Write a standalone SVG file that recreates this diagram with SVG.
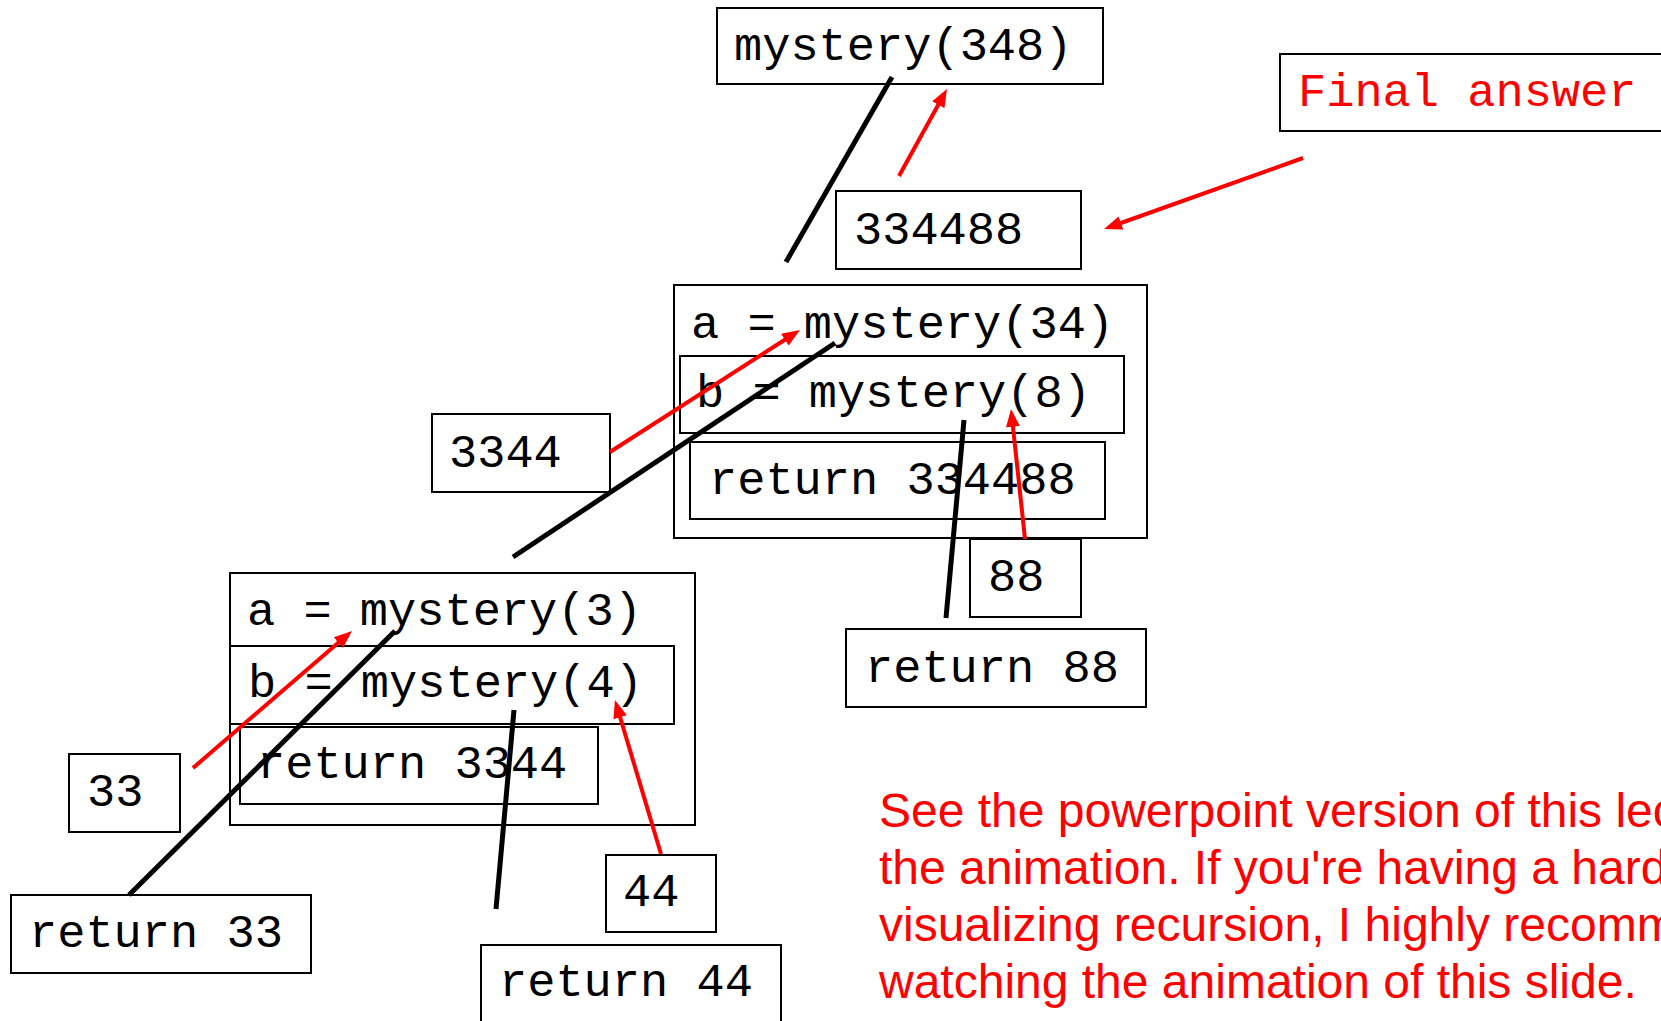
<svg xmlns="http://www.w3.org/2000/svg" width="1661" height="1021" viewBox="0 0 1661 1021">
<style>
.box{fill:none;stroke:#000;stroke-width:2}
.t{font-family:"Liberation Mono","Courier New",monospace;font-size:47px;fill:#000}
.tr{font-family:"Liberation Mono","Courier New",monospace;font-size:47px;fill:#ff0000}
.note{font-family:"Liberation Sans",Arial,sans-serif;font-size:48px;fill:#ff0000}
.blk{stroke:#000;stroke-width:5;fill:none}
.red{stroke:#ff0000;stroke-width:4;fill:none;marker-end:url(#ah)}
</style>
<defs>
<marker id="ah" markerUnits="userSpaceOnUse" viewBox="0 0 18 14" refX="6" refY="7" markerWidth="18" markerHeight="14" orient="auto">
<path d="M0,0 L18,7 L0,14 z" fill="#ff0000"/>
</marker>
</defs>
<rect width="1661" height="1021" fill="#fff"/>
<g id="nodes">
<g id="call348"><rect class="box" x="717" y="8" width="386" height="76"/><text class="t" x="734" y="60">mystery(348)</text></g>
<g id="final"><rect class="box" x="1280" y="54" width="400" height="77"/><text class="tr" x="1298" y="106">Final answer</text></g>
<g id="v334488"><rect class="box" x="836" y="191" width="245" height="78"/><text class="t" x="854" y="244">334488</text></g>
<g id="frame34"><rect class="box" x="674" y="285" width="473" height="253"/><text class="t" x="691" y="338">a = mystery(34)</text></g>
<g id="b8"><rect class="box" x="680" y="356" width="444" height="77"/><text class="t" x="696" y="407">b = mystery(8)</text></g>
<g id="ret334488"><rect class="box" x="690" y="442" width="415" height="77"/><text class="t" x="709" y="494">return 334488</text></g>
<g id="v3344"><rect class="box" x="432" y="414" width="178" height="78"/><text class="t" x="449" y="467">3344</text></g>
<g id="v88"><rect class="box" x="970" y="539" width="111" height="78"/><text class="t" x="988" y="591">88</text></g>
<g id="ret88"><rect class="box" x="846" y="629" width="300" height="78"/><text class="t" x="865" y="682">return 88</text></g>
<g id="frame3"><rect class="box" x="230" y="573" width="465" height="252"/><text class="t" x="247" y="625">a = mystery(3)</text></g>
<g id="b4"><rect class="box" x="230" y="646" width="444" height="78"/><text class="t" x="248" y="697">b = mystery(4)</text></g>
<g id="ret3344"><rect class="box" x="240" y="727" width="358" height="77"/><text class="t" x="257" y="778">return 3344</text></g>
<g id="v33"><rect class="box" x="69" y="754" width="111" height="78"/><text class="t" x="87" y="806">33</text></g>
<g id="ret33"><rect class="box" x="11" y="895" width="300" height="78"/><text class="t" x="29" y="947">return 33</text></g>
<g id="v44"><rect class="box" x="606" y="855" width="110" height="77"/><text class="t" x="623" y="906">44</text></g>
<g id="ret44"><rect class="box" x="481" y="945" width="300" height="90"/><text class="t" x="499" y="996">return 44</text></g>
</g>
<g id="connectors">
<line class="blk" x1="892" y1="77" x2="786" y2="262"/>
<line class="blk" x1="835" y1="343" x2="513" y2="557"/>
<line class="blk" x1="964" y1="420" x2="946" y2="618"/>
<line class="blk" x1="395" y1="631" x2="129" y2="895"/>
<line class="blk" x1="514" y1="710" x2="496" y2="909"/>
<line class="red" x1="899" y1="176" x2="941.2" y2="99.5"/>
<line class="red" x1="1303" y1="158" x2="1115.3" y2="225"/>
<line class="red" x1="610" y1="452" x2="789.9" y2="336.5"/>
<line class="red" x1="1025" y1="539" x2="1012.3" y2="420.9"/>
<line class="red" x1="193" y1="768" x2="342.9" y2="638.8"/>
<line class="red" x1="661" y1="854" x2="618.4" y2="711.5"/>
</g>
<g id="note">
<text class="note" x="879" y="827">See the powerpoint version of this lec</text>
<text class="note" x="879" y="884">the animation. If you're having a hard</text>
<text class="note" x="879" y="941">visualizing recursion, I highly recomm</text>
<text class="note" x="879" y="998">watching the animation of this slide.</text>
</g>
</svg>
